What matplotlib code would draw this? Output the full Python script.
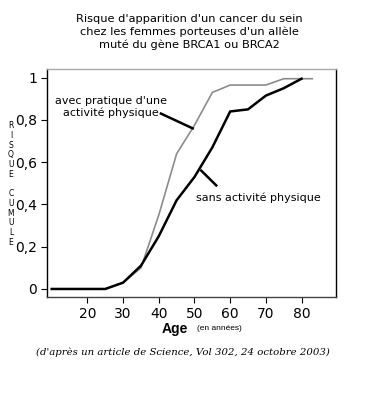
import matplotlib
matplotlib.use('Agg')
from matplotlib import pyplot as plt

# data
ages_avec = [10, 15, 20, 25, 30, 35, 40, 45, 50, 55, 60, 65, 70, 75, 80, 83]
risque_avec = [0, 0, 0, 0, 0.03, 0.10, 0.35, 0.64, 0.775, 0.93, 0.965, 0.965, 0.965, 0.995, 0.995, 0.995]
ages_sans = [10, 15, 20, 25, 30, 35, 40, 45, 50, 55, 60, 65, 70, 75, 80]
risque_sans = [0, 0, 0, 0, 0.03, 0.11, 0.25, 0.42, 0.53, 0.67, 0.84, 0.85, 0.915, 0.95, 0.995]

xticks = [20, 30, 40, 50, 60, 70, 80]
yticks = [0, 0.2, 0.4, 0.6, 0.8, 1]
ylabels = ['0', '0,2', '0,4', '0,6', '0,8', '1']

fig = plt.figure(figsize=(3.65, 4.0), dpi=100)
ax = fig.add_axes([0.129, 0.2575, 0.792, 0.57])

ax.plot(ages_avec, risque_avec, color='#8c8c8c', lw=1.2)
ax.plot(ages_sans, risque_sans, color='black', lw=1.8)

ax.set_xlim(8.7, 89.7)
ax.set_ylim(-0.038, 1.041)
ax.set_xticks(xticks)
ax.set_xticklabels([str(t) for t in xticks], fontsize=10)
ax.set_yticks(yticks)
ax.set_yticklabels(ylabels, fontsize=10)
ax.tick_params(direction='out', length=4, width=0.8, pad=3)

ax.spines['top'].set_color('#aaaaaa')
ax.spines['bottom'].set_color('#444444')
for s in ax.spines.values():
    s.set_linewidth(1)

# labels on the curves
ax.text(26.6, 0.86, "avec pratique d'une\nactivité physique", ha='center', va='center',
        fontsize=8, linespacing=1.2)
ax.plot([40.6, 49.5], [0.83, 0.76], color='black', lw=1.8)
ax.text(67.8, 0.43, "sans activité physique", ha='center', va='center', fontsize=8)
ax.plot([51.9, 56.1], [0.56, 0.49], color='black', lw=1.8)

fig.text(0.52, 0.92, "Risque d'apparition d'un cancer du sein\n"
         "chez les femmes porteuses d'un allèle\nmuté du gène BRCA1 ou BRCA2",
         ha='center', va='center', fontsize=8.2, linespacing=1.35)

# vertical stacked y label
fig.text(0.03, 0.54, "\n".join("RISQUE CUMULE"), ha='center', va='center',
         fontsize=5.5, linespacing=1.1)

fig.text(0.48, 0.178, "Age", ha='center', va='center', fontsize=10,
         fontweight='bold', family='Liberation Sans')
fig.text(0.6, 0.178, "(en années)", ha='center', va='center', fontsize=6,
         family='Liberation Sans')

fig.text(0.5, 0.12, "(d'après un article de Science, Vol 302, 24 octobre 2003)",
         ha='center', va='center', fontsize=7.3, style='italic', family='DejaVu Serif')

fig.savefig('out.png', dpi=100)
